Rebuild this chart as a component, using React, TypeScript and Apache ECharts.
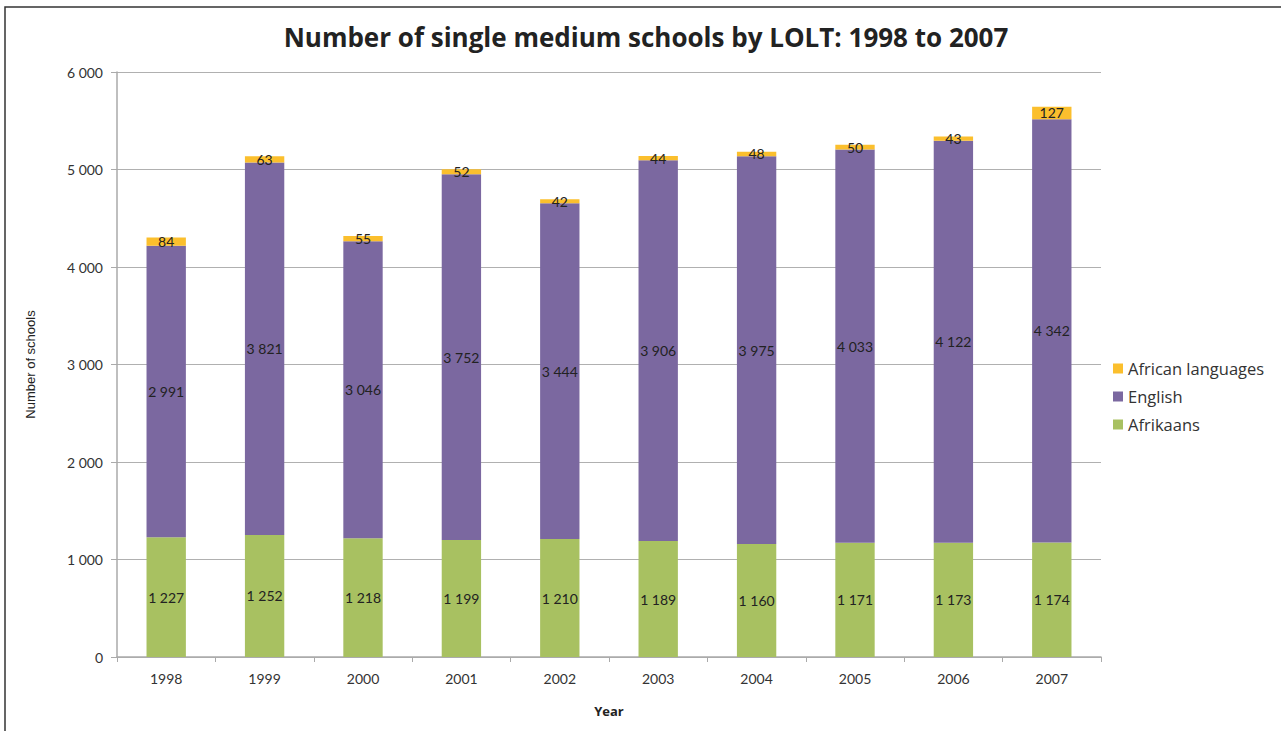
import React, { useEffect, useRef } from "react";
import * as echarts from "echarts";

const years = ["1998", "1999", "2000", "2001", "2002", "2003", "2004", "2005", "2006", "2007"];
const afrikaans = [1227, 1252, 1218, 1199, 1210, 1189, 1160, 1171, 1173, 1174];
const english = [2991, 3821, 3046, 3752, 3444, 3906, 3975, 4033, 4122, 4342];
const african = [84, 63, 55, 52, 42, 44, 48, 50, 43, 127];

const fmt = (v: number) => String(v).replace(/\B(?=(\d{3})+(?!\d))/g, " ");
const FONT = "Lato, 'Open Sans', sans-serif";
const WIDE = "'Open Sans', Lato, sans-serif";

export default function App() {
  const ref = useRef<HTMLDivElement>(null);
  useEffect(() => {
    const chart = echarts.init(ref.current!, null, { renderer: "svg" });
    const label = {
      show: true,
      position: "inside" as const,
      color: "#222",
      fontSize: 14,
      fontFamily: FONT,
      formatter: (p: any) => fmt(p.value),
    };
    chart.setOption({
      animation: false,
      backgroundColor: "#fff",
      title: {
        text: "Number of single medium schools by LOLT: 1998 to 2007",
        left: 641,
        textAlign: "center",
        top: 19,
        textStyle: { fontFamily: WIDE, fontWeight: "bold", fontSize: 26, color: "#222" },
      },
      graphic: [
        {
          type: "rect",
          shape: { x: 5, y: 7, width: 1400, height: 800 },
          style: { fill: "none", stroke: "#333", lineWidth: 1.5 },
          silent: true,
          z: 100,
        },
      ],
      legend: {
        orient: "vertical",
        left: 1108,
        top: 355,
        itemWidth: 10,
        itemHeight: 10,
        itemGap: 11,
        icon: "rect",
        textStyle: { fontFamily: WIDE, fontSize: 16.5, color: "#333" },
        data: ["African languages", "English", "Afrikaans"],
      },
      grid: { left: 117, right: 180, top: 72, bottom: 74 },
      xAxis: {
        type: "category",
        data: years,
        name: "Year",
        nameLocation: "middle",
        nameGap: 47,
        nameTextStyle: { fontFamily: WIDE, fontWeight: "bold", fontSize: 13, color: "#222" },
        axisLine: { lineStyle: { color: "#aaa", width: 1.5 } },
        axisTick: { show: true, length: 5, lineStyle: { color: "#aaa" } },
        axisLabel: { fontFamily: FONT, fontSize: 14, color: "#333", margin: 14 },
      },
      yAxis: {
        type: "value",
        min: 0,
        max: 6000,
        interval: 1000,
        name: "Number of schools",
        nameLocation: "middle",
        nameRotate: 90,
        nameGap: 80,
        nameTextStyle: {
          fontFamily: "'Liberation Sans Narrow', 'Liberation Sans', sans-serif",
          fontSize: 13,
          color: "#222",
        },
        axisLine: { show: true, lineStyle: { color: "#aaa", width: 1.5 } },
        axisTick: { show: true, inside: false, length: 6, lineStyle: { color: "#aaa" } },
        axisLabel: { fontFamily: FONT, fontSize: 14, color: "#333", margin: 14, formatter: (v: number) => fmt(v) },
        splitLine: { lineStyle: { color: "#b0b0b0", width: 1 } },
      },
      series: [
        {
          name: "Afrikaans",
          type: "bar",
          stack: "s",
          barWidth: "40%",
          data: afrikaans,
          itemStyle: { color: "#A8C161" },
          label,
        },
        {
          name: "English",
          type: "bar",
          stack: "s",
          data: english,
          itemStyle: { color: "#7B68A0" },
          label,
        },
        {
          name: "African languages",
          type: "bar",
          stack: "s",
          data: african,
          itemStyle: { color: "#FBBF2D" },
          label,
        },
      ],
    });
    return () => chart.dispose();
  }, []);
  return <div ref={ref} style={{ position: "fixed", left: 0, top: 0, width: 1281, height: 731 }} />;
}
